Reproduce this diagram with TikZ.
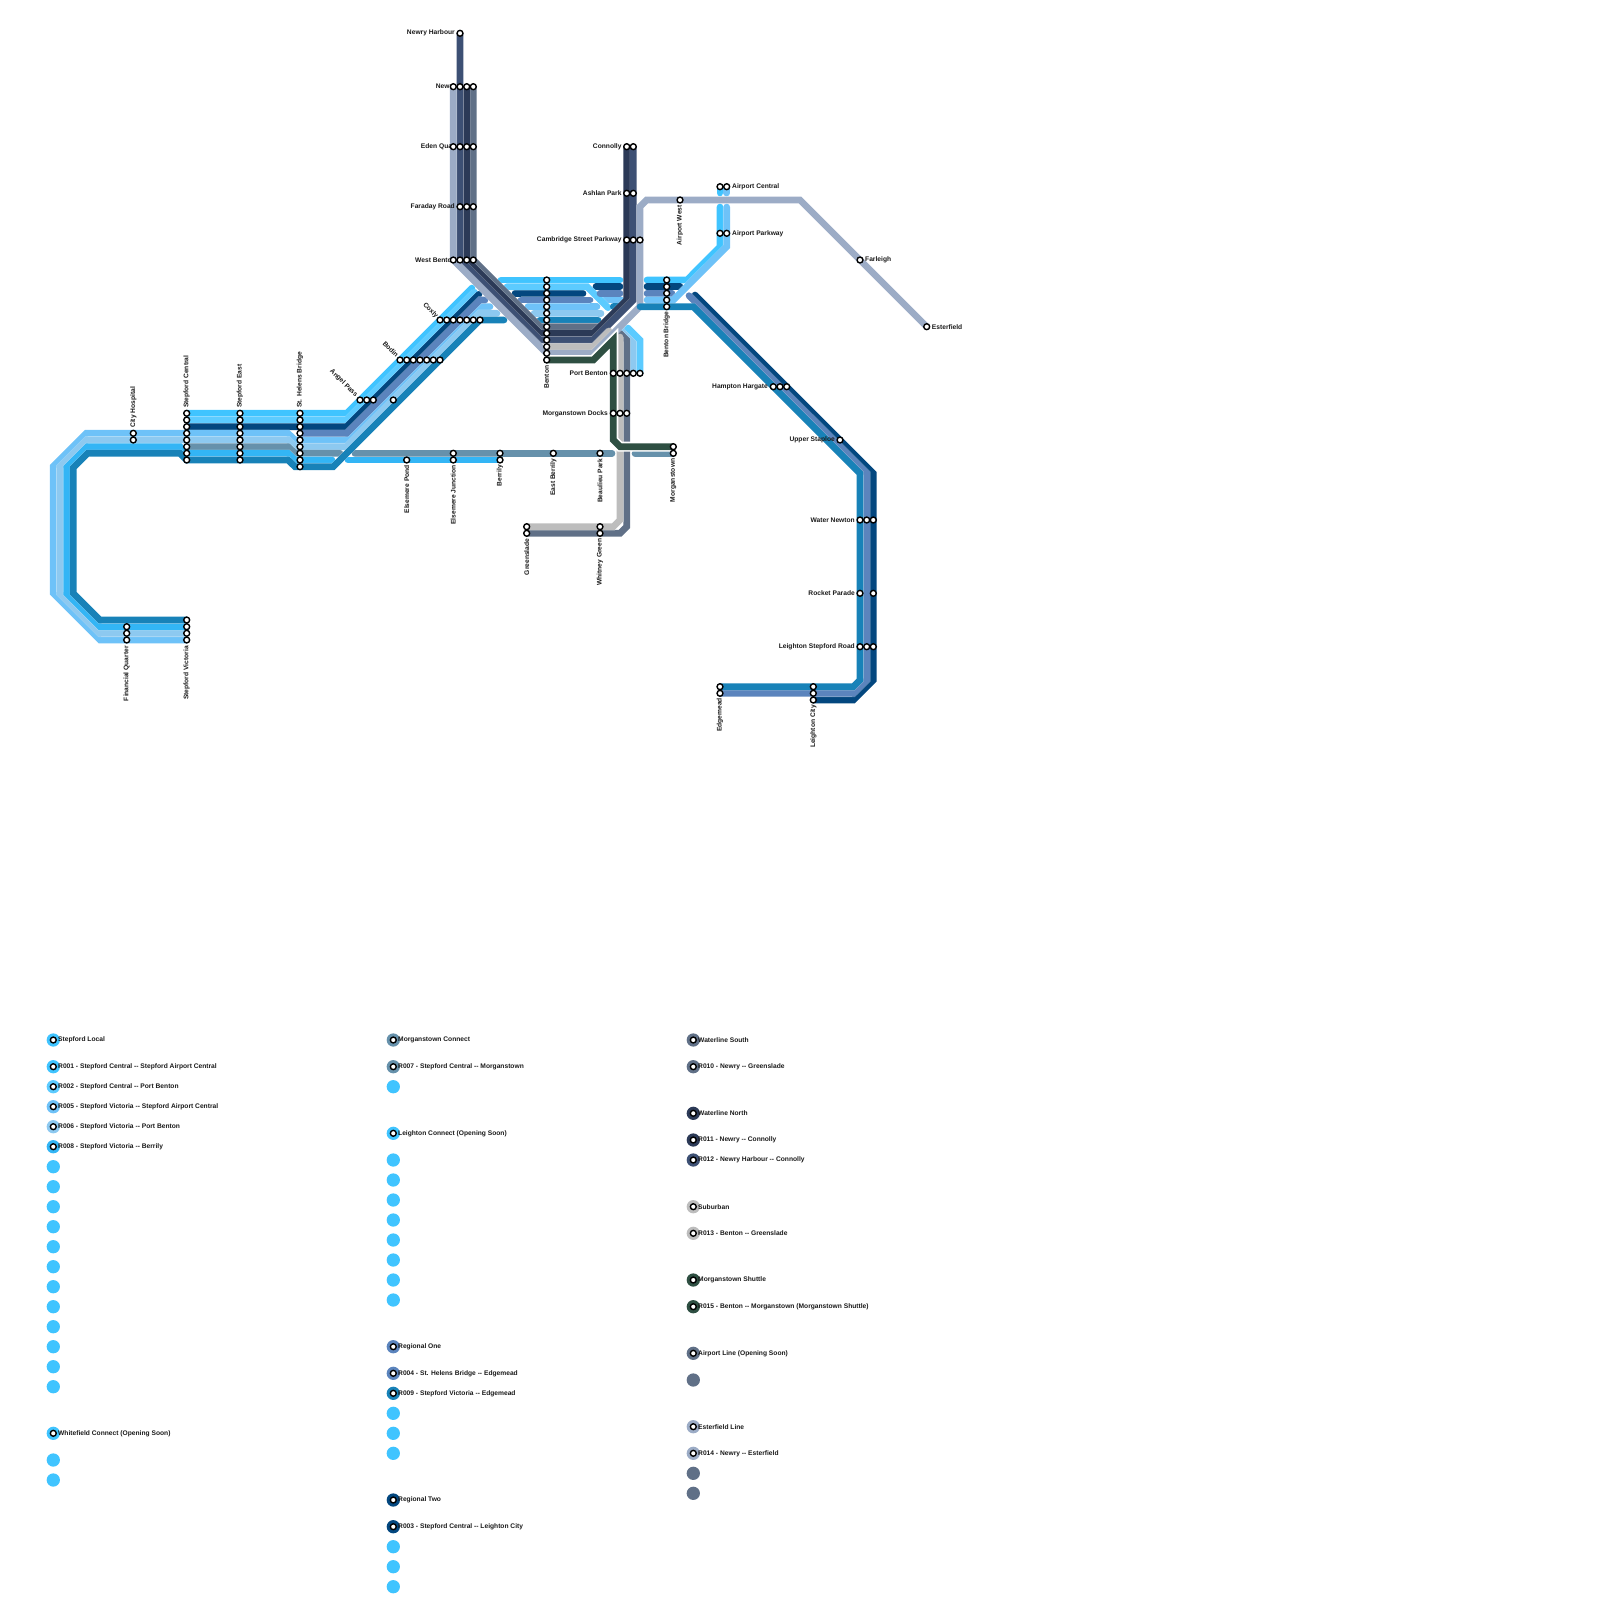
\documentclass[tikz,border=0pt]{standalone}
\usepackage{fontspec}
\setmainfont{Liberation Sans}[Ligatures=TeXOff]
\definecolor{ra}{HTML}{40C4FF}
\definecolor{rb}{HTML}{5CCBFF}
\definecolor{rc}{HTML}{03477F}
\definecolor{rd}{HTML}{5B84BD}
\definecolor{re}{HTML}{6EC2F8}
\definecolor{rf}{HTML}{8DC9F0}
\definecolor{rg}{HTML}{6691AB}
\definecolor{rh}{HTML}{33B5F5}
\definecolor{ri}{HTML}{1882B8}
\definecolor{rj}{HTML}{607087}
\definecolor{rk}{HTML}{2C3A57}
\definecolor{rl}{HTML}{3D5074}
\definecolor{rm}{HTML}{BDBDBD}
\definecolor{rn}{HTML}{9CACC6}
\definecolor{ro}{HTML}{2E4F42}
\tikzset{
  rail/.style={draw=#1,line width=6.67pt,line cap=round,line join=miter,
    preaction={draw=white,line width=7.6pt,draw opacity=.3}},
  railx/.style={draw=#1,line width=6.67pt,line cap=round,line join=miter,
    preaction={draw=white,line width=10pt}},
  stn/.style={circle,draw=black,fill=white,line width=1.4pt,minimum size=5.9pt,inner sep=0pt,outer sep=0pt},
  lab/.style={font=\bfseries\fontsize{6.67}{7}\selectfont,inner sep=0pt,text=black!90},
  lr/.style={lab,anchor=east},
  ll/.style={lab,anchor=west},
  up/.style={lab,anchor=west,rotate=90},
  dn/.style={lab,anchor=east,rotate=90},
  dg/.style={lab,anchor=east,rotate=-45},
  dotm/.style={circle,fill=#1,minimum size=13.3pt,inner sep=0pt,outer sep=0pt},
}
\newcommand\stns[2]{\foreach \px/\py [count=\ni] in {#2} {\node[stn] (#1\ni) at (\px,\py) {};}}
\newcount\lgc
\newcommand\lgent[4]{\global\advance\lgc by 1
  \node[dotm=#3] (lgd\the\lgc) at (#1,#2) {};
  \node[stn] (lgs\the\lgc) at (#1,#2) {};
  \node[ll] (lgt\the\lgc) at ($(#1,#2)+(4.7,0)$) {#4};}
\newcommand\lgdot[3]{\global\advance\lgc by 1
  \node[dotm=#3] (lgd\the\lgc) at (#1,#2) {};}
\usetikzlibrary{calc}
\begin{document}
\begin{tikzpicture}[x=1pt,y=-1pt]
\useasboundingbox (0,0) rectangle (1600,1600);
% --- Stepford group
\draw[rail=ra] (186.7,413.3) -- (346.7,413.3) -- (472,288);
\draw[rail=ra] (501,280) -- (620,280);
\draw[rail=ra] (647,280) -- (687,280) -- (720,246.7) -- (720,207);
\draw[rail=ra] (720,193) -- (720,186.7);
\draw[rail=rb] (186.7,420) -- (346.7,420) -- (474.5,292.2);
\draw[rail=rc] (186.7,426.7) -- (346.7,426.7) -- (479,294.3);
\draw[rail=rc] (515,293.3) -- (583,293.3);
\draw[rail=rc] (596,286.7) -- (620,286.7);
\draw[rail=rc] (647,286.7) -- (680,286.7);
\draw[rail=rc] (695,295) -- (873.3,473.3) -- (873.3,680) -- (853.3,700) -- (813.3,700);
\draw[rail=re] (186.7,640) -- (100,640) -- (53.3,593.3) -- (53.3,466.4) -- (86.4,433.3) -- (288,433.3) -- (295,440) -- (346.7,440) -- (480,306.7) -- (490,306.7);
\draw[rail=re] (528,306.7) -- (597,306.7);
\draw[rail=re] (604,300) -- (622,300);
\draw[rail=rf] (186.7,633.3) -- (100,633.3) -- (60,593.3) -- (60,467) -- (87,440) -- (288,440) -- (295,446.7) -- (346.7,446.7) -- (480,313.3) -- (497,313.3);
\draw[rail=rf] (534,313.3) -- (601,313.3);
\draw[rail=rf] (622,329) -- (633.3,340) -- (633.3,373.3);
\draw[rail=rb] (507,286.7) -- (587,286.7) -- (608,307.7);
\draw[rail=rb] (628,328) -- (640,340) -- (640,373.3);
\draw[rail=rd] (300,433.3) -- (346.7,433.3) -- (480,300) -- (485,300);
\draw[rail=rd] (521,300) -- (590,300);
\draw[rail=rd] (600,293.3) -- (620,293.3);
\draw[rail=rd] (647,293.3) -- (672,293.3);
\draw[rail=rd] (689,295.7) -- (866.7,473.3) -- (866.7,680) -- (853.3,693.3) -- (720,693.3);
\draw[rail=rg] (186.7,446.7) -- (288,446.7) -- (295,453.3) -- (340,453.3);
\draw[rail=rg] (355,453.3) -- (612,453.3);
\draw[rail=rg] (635,453.3) -- (673.3,453.3);
\draw[rail=rh] (186.7,626.7) -- (100,626.7) -- (66.7,593.3) -- (66.7,467.3) -- (87.3,446.7) -- (180,446.7) -- (186.7,453.3) -- (288,453.3) -- (295,460) -- (332,460);
\draw[rail=rh] (348,460) -- (500,460);
\draw[rail=ri] (186.7,620) -- (100,620) -- (73.3,593.3) -- (73.3,467.7) -- (87.7,453.3) -- (180,453.3) -- (186.7,460) -- (288,460) -- (295,466.7) -- (333.3,466.7) -- (480,320) -- (504,320);
\draw[rail=ri] (540,320) -- (598,320);
\draw[rail=ri] (613.3,306.7) -- (620,306.7);
% --- Airport branch over the rest
\draw[rail=re] (647,300) -- (673.3,300) -- (726.7,246.7) -- (726.7,207);
\draw[rail=re] (726.7,193) -- (726.7,186.7);
% --- Waterline etc
\draw[rail=rj] (473.3,86.7) -- (473.3,260) -- (540,326.7) -- (600,326.7);
\draw[rail=rj] (620,333.3) -- (626.7,340) -- (626.7,526.7) -- (620,533.3) -- (526.7,533.3);
\draw[rail=rk] (466.7,86.7) -- (466.7,260) -- (540,333.3) -- (593.3,333.3) -- (626.7,300) -- (626.7,146.7);
\draw[rail=rl] (460,33.3) -- (460,260) -- (540,340) -- (593.3,340) -- (633.3,300) -- (633.3,146.7);
\draw[rail=rm] (546.7,346.7) -- (593.3,346.7) -- (609,331);
\draw[rail=rm] (620,337) -- (620,520) -- (613.3,526.7) -- (526.7,526.7);
\draw[rail=rn] (453.3,86.7) -- (453.3,260) -- (546.7,353.3) -- (593.3,353.3) -- (640,306.7) -- (640,206.7) -- (646.7,200) -- (800,200) -- (926.7,326.7);
\draw[railx=ro] (546.7,360) -- (593.3,360) -- (613.3,340) -- (613.3,440) -- (620,446.7) -- (673.3,446.7);
\draw[rail=ri] (640,306.7) -- (693.3,306.7) -- (860,473.3) -- (860,680) -- (853.3,686.7) -- (720,686.7);
% --- labels
\node[lr] (tnh) at (455,33) {Newry Harbour};
\node[lr] (tnw) at (456,86.7) {Newry};
\node[lr] (teq) at (456,146.7) {Eden Quay};
\node[lr] (tfr) at (455,206.7) {Faraday Road};
\node[lr] (twb) at (456,260) {West Benton};
\node[lr] (tcn) at (621.7,146.7) {Connolly};
\node[lr] (tap) at (621.7,193.3) {Ashlan Park};
\node[lr] (tcs) at (621.7,240) {Cambridge Street Parkway};
\node[lr] (tpb) at (608,373.3) {Port Benton};
\node[lr] (tmd) at (608,413.3) {Morganstown Docks};
\node[lr] (thh) at (768,386.7) {Hampton Hargate};
\node[lr] (tus) at (835,440) {Upper Staploe};
\node[lr] (twn) at (855,520) {Water Newton};
\node[lr] (trp) at (855,593.3) {Rocket Parade};
\node[lr] (tls) at (855,646.7) {Leighton Stepford Road};
\node[ll] (tac) at (732,186.7) {Airport Central};
\node[ll] (tak) at (732,233.3) {Airport Parkway};
\node[ll] (tfa) at (865,260) {Farleigh};
\node[ll] (tes) at (931.7,326.7) {Esterfield};
\node[up] (tch) at (133.3,428) {City Hospital};
\node[up] (tsc) at (186.7,408) {Stepford Central};
\node[up] (tse) at (240,408) {Stepford East};
\node[up] (tsh) at (300,408) {St. Helens Bridge};
\node[dn] (tfq) at (126.7,646) {Financial Quarter};
\node[dn] (tsv) at (186.7,646) {Stepford Victoria};
\node[dn] (tep) at (406.7,465) {Elsemere Pond};
\node[dn] (tej) at (453.3,465) {Elsemere Junction};
\node[dn] (tbe) at (500,465) {Berrily};
\node[dn] (teb) at (553.3,458.5) {East Berrily};
\node[dn] (tbp) at (600,458.5) {Beaulieu Park};
\node[dn] (tmo) at (673.3,458.5) {Morganstown};
\node[dn] (tgr) at (526.7,538.5) {Greenslade};
\node[dn] (twg) at (600,538.5) {Whitney Green};
\node[dn] (tbn) at (546.7,365.5) {Benton};
\node[dn] (tbb) at (666.7,311.7) {Benton Bridge};
\node[dn] (tao) at (680,205) {Airport West};
\node[dn] (ted) at (720,698) {Edgemead};
\node[dn] (tlc) at (813.3,705) {Leighton City};
\node[dg] (tan) at (356.5,396) {Angel Pass};
\node[dg] (tbo) at (397.5,356) {Bodin};
\node[dg] (tco) at (437,317) {Coxly};
% --- stations
\stns{a}{460/33.3,453.3/86.7,460/86.7,466.7/86.7,473.3/86.7,453.3/146.7,460/146.7,466.7/146.7,473.3/146.7,460/206.7,466.7/206.7,473.3/206.7,453.3/260,460/260,466.7/260,473.3/260}
\stns{b}{626.7/146.7,633.3/146.7,626.7/193.3,633.3/193.3,626.7/240,633.3/240,640/240}
\stns{c}{680/200,720/186.7,726.7/186.7,720/233.3,726.7/233.3,860/260,926.7/326.7}
\stns{d}{546.7/280,546.7/286.7,546.7/293.3,546.7/300,546.7/306.7,546.7/313.3,546.7/320,546.7/326.7,546.7/333.3,546.7/340,546.7/346.7,546.7/353.3,546.7/360}
\stns{e}{666.7/280,666.7/286.7,666.7/293.3,666.7/300,666.7/306.7}
\stns{f}{440/320,446.7/320,453.3/320,460/320,466.7/320,473.3/320,480/320}
\stns{g}{400/360,406.7/360,413.3/360,420/360,426.7/360,433.3/360,440/360}
\stns{h}{360/400,366.7/400,373.3/400,393.3/400}
\stns{i}{613.3/373.3,620/373.3,626.7/373.3,633.3/373.3,640/373.3,613.3/413.3,620/413.3,626.7/413.3}
\stns{j}{773.3/386.7,780/386.7,786.7/386.7,840/440,860/520,866.7/520,873.3/520,860/593.3,873.3/593.3,860/646.7,866.7/646.7,873.3/646.7}
\stns{k}{720/686.7,720/693.3,813.3/686.7,813.3/693.3,813.3/700}
\stns{l}{186.7/413.3,186.7/420,186.7/426.7,186.7/433.3,186.7/440,186.7/446.7,186.7/453.3,186.7/460}
\stns{m}{240/413.3,240/420,240/426.7,240/433.3,240/440,240/446.7,240/453.3,240/460}
\stns{n}{300/413.3,300/420,300/426.7,300/433.3,300/440,300/446.7,300/453.3,300/460,300/466.7}
\stns{o}{133.3/433.3,133.3/440,126.7/626.7,126.7/633.3,126.7/640,186.7/620,186.7/626.7,186.7/633.3,186.7/640}
\stns{p}{406.7/460,453.3/453.3,453.3/460,500/453.3,500/460,553.3/453.3,600/453.3,673.3/446.7,673.3/453.3,526.7/526.7,526.7/533.3,600/526.7,600/533.3}
% --- legend column 1
\lgent{53.3}{1040}{ra}{Stepford Local}
\lgent{53.3}{1066.7}{ra}{R001 - Stepford Central -- Stepford Airport Central}
\lgent{53.3}{1086.7}{rb}{R002 - Stepford Central -- Port Benton}
\lgent{53.3}{1106.7}{re}{R005 - Stepford Victoria -- Stepford Airport Central}
\lgent{53.3}{1126.7}{rf}{R006 - Stepford Victoria -- Port Benton}
\lgent{53.3}{1146.7}{rh}{R008 - Stepford Victoria -- Berrily}
\foreach \yy in {1166.7,1186.7,1206.7,1226.7,1246.7,1266.7,1286.7,1306.7,1326.7,1346.7,1366.7,1386.7} {\lgdot{53.3}{\yy}{ra}}
\lgent{53.3}{1433.3}{ra}{Whitefield Connect (Opening Soon)}
\lgdot{53.3}{1460}{ra}
\lgdot{53.3}{1480}{ra}
% --- legend column 2
\lgent{393.3}{1040}{rg}{Morganstown Connect}
\lgent{393.3}{1066.7}{rg}{R007 - Stepford Central -- Morganstown}
\lgdot{393.3}{1086.7}{ra}
\lgent{393.3}{1133.3}{ra}{Leighton Connect (Opening Soon)}
\foreach \yy in {1160,1180,1200,1220,1240,1260,1280,1300} {\lgdot{393.3}{\yy}{ra}}
\lgent{393.3}{1346.7}{rd}{Regional One}
\lgent{393.3}{1373.3}{rd}{R004 - St. Helens Bridge -- Edgemead}
\lgent{393.3}{1393.3}{ri}{R009 - Stepford Victoria -- Edgemead}
\foreach \yy in {1413.3,1433.3,1453.3} {\lgdot{393.3}{\yy}{ra}}
\lgent{393.3}{1500}{rc}{Regional Two}
\lgent{393.3}{1526.7}{rc}{R003 - Stepford Central -- Leighton City}
\foreach \yy in {1546.7,1566.7,1586.7} {\lgdot{393.3}{\yy}{ra}}
% --- legend column 3
\lgent{693.3}{1040}{rj}{Waterline South}
\lgent{693.3}{1066.7}{rj}{R010 - Newry -- Greenslade}
\lgent{693.3}{1113.3}{rk}{Waterline North}
\lgent{693.3}{1140}{rk}{R011 - Newry -- Connolly}
\lgent{693.3}{1160}{rl}{R012 - Newry Harbour -- Connolly}
\lgent{693.3}{1206.7}{rm}{Suburban}
\lgent{693.3}{1233.3}{rm}{R013 - Benton -- Greenslade}
\lgent{693.3}{1280}{ro}{Morganstown Shuttle}
\lgent{693.3}{1306.7}{ro}{R015 - Benton -- Morganstown (Morganstown Shuttle)}
\lgent{693.3}{1353.3}{rj}{Airport Line (Opening Soon)}
\lgdot{693.3}{1380}{rj}
\lgent{693.3}{1426.7}{rn}{Esterfield Line}
\lgent{693.3}{1453.3}{rn}{R014 - Newry -- Esterfield}
\lgdot{693.3}{1473.3}{rj}
\lgdot{693.3}{1493.3}{rj}
\end{tikzpicture}
\end{document}
